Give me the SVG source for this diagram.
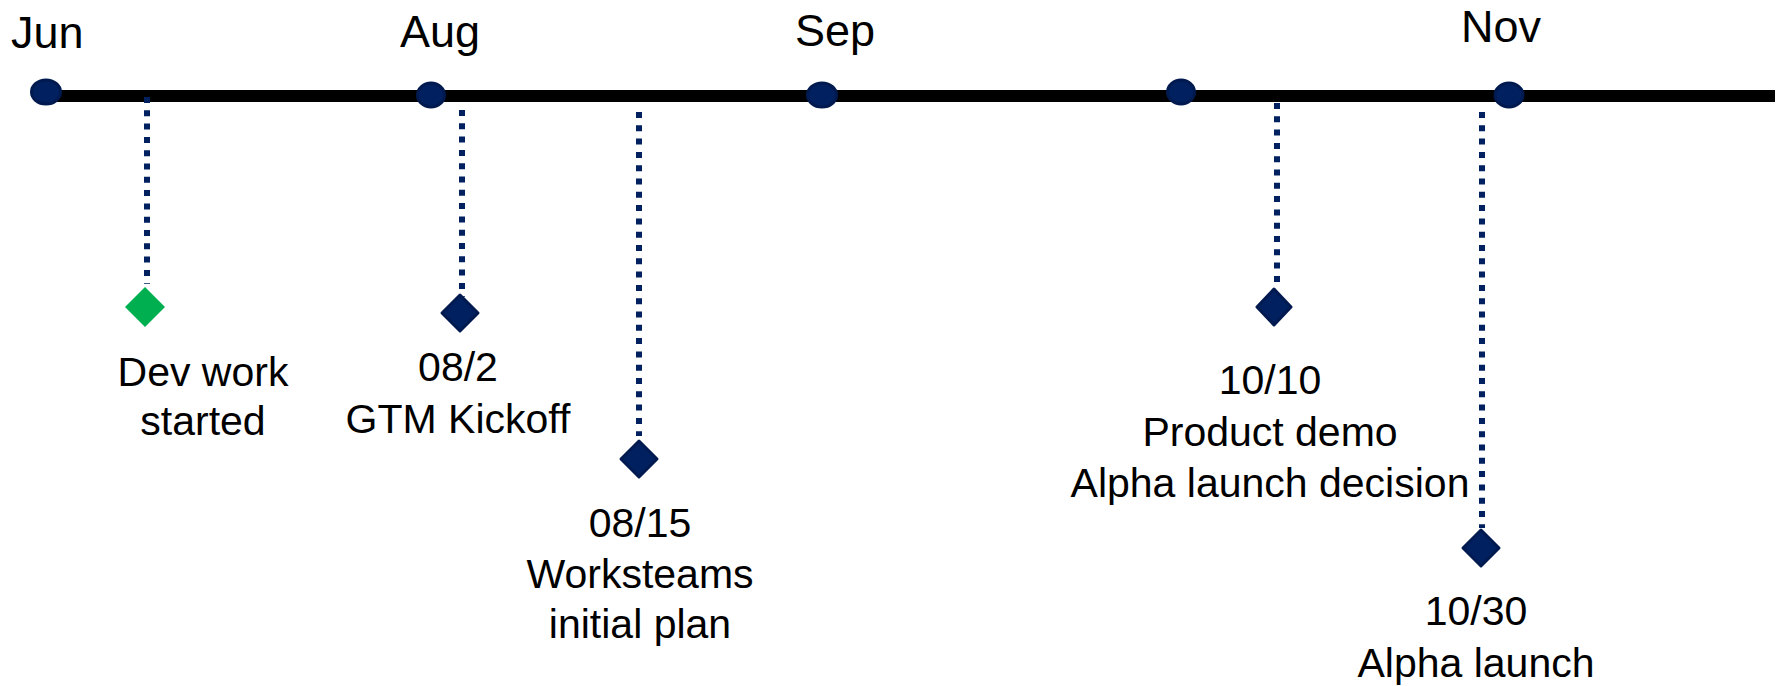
<svg xmlns="http://www.w3.org/2000/svg" width="1777" height="686" viewBox="0 0 1777 686">
  <style>
    .month { font-family: "Liberation Sans", Arial, sans-serif; font-size: 45px; fill: #000; }
    .label { font-family: "Liberation Sans", Arial, sans-serif; font-size: 41px; fill: #000; text-anchor: middle; }
    .axis { stroke: #000; stroke-width: 12; fill: none; }
    .tick { fill: #002060; stroke: #001a4f; stroke-width: 3; }
    .leader { stroke: #002060; stroke-width: 6; stroke-dasharray: 6 7.3; fill: none; }
    .milestone { fill: #002060; stroke: #001a4f; stroke-width: 3; stroke-linejoin: round; }
    .milestone-start { fill: #00b050; }
  </style>

  <!-- timeline axis -->
  <g id="axis">
    <line class="axis" x1="46" y1="96" x2="1775" y2="96"/>
  </g>

  <!-- month markers -->
  <g id="month-jun">
    <ellipse class="tick" cx="46" cy="92" rx="14.5" ry="12"/>
    <text class="month" x="11" y="48">Jun</text>
  </g>
  <g id="month-aug">
    <ellipse class="tick" cx="431" cy="95" rx="13.5" ry="12"/>
    <text class="month" x="440" y="47" text-anchor="middle">Aug</text>
  </g>
  <g id="month-sep">
    <ellipse class="tick" cx="822" cy="95" rx="14.5" ry="12"/>
    <text class="month" x="835" y="46" text-anchor="middle">Sep</text>
  </g>
  <g id="month-oct">
    <ellipse class="tick" cx="1181" cy="92" rx="13.5" ry="12"/>
  </g>
  <g id="month-nov">
    <ellipse class="tick" cx="1509" cy="95" rx="14" ry="12"/>
    <text class="month" x="1501" y="42" text-anchor="middle">Nov</text>
  </g>

  <!-- leader lines from axis to milestones -->
  <g id="connectors">
    <line class="leader" x1="147" y1="97" x2="147" y2="284"/>
    <line class="leader" x1="462" y1="110" x2="462" y2="297"/>
    <line class="leader" x1="639" y1="112" x2="639" y2="436"/>
    <line class="leader" x1="1277" y1="103" x2="1277" y2="284"/>
    <line class="leader" x1="1482" y1="112" x2="1482" y2="528"/>
  </g>

  <!-- milestones -->
  <g id="dev-work-started">
    <polygon class="milestone-start" points="145,287 165,307 145,327 125,307"/>
    <text class="label" x="203" y="386">Dev work</text>
    <text class="label" x="203" y="435">started</text>
  </g>
  <g id="gtm-kickoff">
    <polygon class="milestone" points="460,295 478,313 460,331 442,313"/>
    <text class="label" x="458" y="381">08/2</text>
    <text class="label" x="458" y="433">GTM Kickoff</text>
  </g>
  <g id="workstreams-plan">
    <polygon class="milestone" points="639,441 657,459 639,477 621,459"/>
    <text class="label" x="640" y="537">08/15</text>
    <text class="label" x="640" y="588">Worksteams</text>
    <text class="label" x="640" y="638">initial plan</text>
  </g>
  <g id="product-demo">
    <polygon class="milestone" points="1274,289 1291,307 1274,325 1257,307"/>
    <text class="label" x="1270" y="394">10/10</text>
    <text class="label" x="1270" y="446">Product demo</text>
    <text class="label" x="1270" y="497">Alpha launch decision</text>
  </g>
  <g id="alpha-launch">
    <polygon class="milestone" points="1481,530 1499,548 1481,566 1463,548"/>
    <text class="label" x="1476" y="625">10/30</text>
    <text class="label" x="1476" y="677">Alpha launch</text>
  </g>
</svg>
